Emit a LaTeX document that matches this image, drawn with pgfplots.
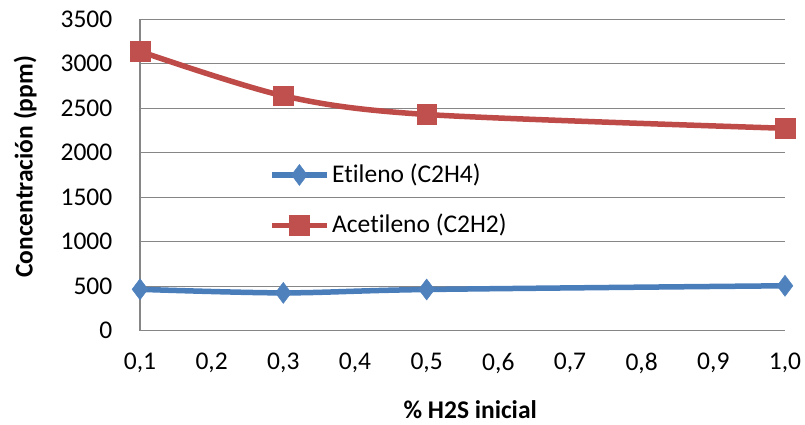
\documentclass[border=0pt]{standalone}
\usepackage{pgfplots}
\pgfplotsset{compat=1.18}
\usepackage{fontspec}
\setmainfont{Carlito}[Ligatures={NoCommon}]
\definecolor{etileno}{HTML}{4F81BD}
\definecolor{etilenoline}{HTML}{4A7EBB}
\definecolor{acetileno}{HTML}{C0504D}
\definecolor{acetilenoline}{HTML}{BE4B48}
\definecolor{gridgray}{HTML}{868686}
\begin{document}
\fontsize{25.5bp}{30bp}\selectfont
\begin{tikzpicture}
\path[use as bounding box] (-140bp,-94.3bp) rectangle (665bp,330.7bp);
\begin{axis}[
  at={(0,0)}, anchor=south west,
  scale only axis,
  width=645bp, height=311.4bp,
  xmin=0.1, xmax=1.0, ymin=0, ymax=3500,
  xtick={0.1,0.2,...,1.0},
  ytick={0,500,...,3500},
  axis x line*=bottom, axis y line*=left,
  axis line style={gridgray, line width=1.3bp, -},
  ymajorgrids,
  major grid style={gridgray, line width=1.3bp},
  major tick length=0pt,
  tick style={draw=none},
  /pgf/number format/assume math mode=true,
  x tick label style={/pgf/number format/use comma, /pgf/number format/fixed,
    /pgf/number format/fixed zerofill, /pgf/number format/precision=1, yshift=-14bp},
  y tick label style={/pgf/number format/1000 sep={}, xshift=-19bp},
  ticklabel style={font=\fontsize{25.5bp}{30bp}\selectfont},
  xlabel={\bfseries \% H2S inicial},
  ylabel={\bfseries Concentración (ppm)},
  xlabel style={at={(axis description cs:0.512,-0.253)}, anchor=center},
  ylabel style={at={(axis description cs:-0.178,0.526)}, anchor=center},
  legend style={at={(axis description cs:0.2,0.545)}, anchor=north west,
    draw=none, fill=none, row sep=23bp, inner sep=0pt,
    font=\fontsize{25.5bp}{30bp}\selectfont,
    nodes={inner sep=2.5bp}},
  legend cell align=left,
  legend image code/.code={\draw[mark repeat=2, mark phase=2, #1] plot coordinates {(0bp,0bp) (27.5bp,0bp) (55bp,0bp)};},
]
\addplot[etilenoline, line width=5.5bp, smooth,
  mark=diamond*, mark size=10.5bp,
  mark options={fill=etileno, draw=etileno, line width=0.5bp, solid}]
  coordinates {(0.1,465) (0.3,425) (0.5,463) (1.0,505)};
\addlegendentry{Etileno (C2H4)}
\addplot[acetilenoline, line width=5.5bp, smooth,
  mark=square*, mark size=9.8bp,
  mark options={fill=acetileno, draw=acetileno, line width=0.5bp, solid}]
  coordinates {(0.1,3140) (0.3,2640) (0.5,2430) (1.0,2275)};
\addlegendentry{Acetileno (C2H2)}
\end{axis}
\end{tikzpicture}
\end{document}
